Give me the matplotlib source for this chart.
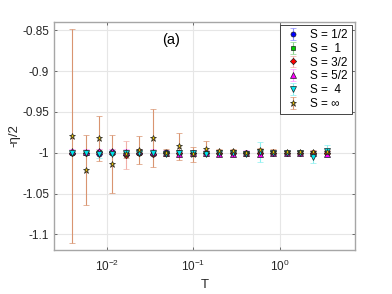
import matplotlib
matplotlib.use('Agg')
from matplotlib import pyplot as plt
from matplotlib.ticker import LogLocator, NullLocator

plt.rcParams['font.family'] = ['Liberation Sans', 'DejaVu Sans']

# temperatures
T = [0.004, 0.0057, 0.0081, 0.0116, 0.0166, 0.0237, 0.0338, 0.0482, 0.069, 0.098,
     0.14, 0.2, 0.286, 0.408, 0.582, 0.83, 1.19, 1.69, 2.41, 3.45]

labels = ['S = 1/2', 'S =  1', 'S = 3/2', 'S = 5/2', 'S =  4', 'S = \u221e']

s_half = [-1.0, -1.0, -1.001, -0.999, -1.0, -1.0, -1.001, -0.999, -1.0, -1.0,
          -1.0, -1.0, -0.999, -1.0, -1.0, -1.0, -1.0, -1.0, -1.0, -1.0]
s_half_err = [0.002] * 20
s_one = [-1.0, -1.0, -0.999, -1.0, -1.001, -1.0, -1.0, -1.0, -0.999, -1.0,
         -1.0, -1.0, -1.0, -1.0, -1.0, -1.0, -1.0, -1.0, -1.0, -1.0]
s_one_err = [0.002] * 20
s_3half = [-1.0, -1.0, -0.999, -0.999, -1.003, -1.0, -1.001, -1.0, -1.0, -1.0,
           -1.0, -1.0, -1.0, -1.0, -1.0, -1.0, -1.0, -1.0, -1.0, -1.0]
s_3half_err = [0.003, 0.003, 0.003, 0.003, 0.017, 0.003, 0.003, 0.003, 0.003, 0.003,
               0.002, 0.002, 0.002, 0.002, 0.002, 0.002, 0.002, 0.002, 0.002, 0.002]
s_5half = [-0.998, -0.999, -0.998, -0.998, -0.999, -0.998, -0.999, -1.0, -1.002, -1.0,
           -1.0, -1.001, -1.002, -1.0, -1.002, -1.0, -1.0, -1.0, -1.0, -1.001]
s_5half_err = [0.003] * 20
s_four = [-1.0, -1.0, -1.002, -1.001, -1.0, -1.0, -1.0, -1.001, -1.0, -1.0,
          -1.001, -1.0, -1.0, -1.001, -0.999, -1.0, -1.0, -1.0, -1.005, -0.998]
s_four_err = [0.002, 0.002, 0.004, 0.002, 0.002, 0.002, 0.002, 0.002, 0.002, 0.002,
              0.002, 0.002, 0.002, 0.002, 0.012, 0.002, 0.002, 0.002, 0.007, 0.007]
s_inf = [-0.980, -1.0215, -0.982, -1.0142, -1.002, -0.9965, -0.982, -1.0, -0.9918, -1.002,
         -0.995, -0.998, -0.998, -1.0007, -0.997, -0.999, -0.9995, -0.999, -0.999, -0.999]
s_inf_err = [0.131, 0.043, 0.0275, 0.0355, 0.004, 0.0168, 0.036, 0.004, 0.0165, 0.009,
             0.009, 0.003, 0.003, 0.003, 0.003, 0.003, 0.002, 0.002, 0.002, 0.002]

fig = plt.figure(figsize=(3.92, 2.94), dpi=100)
ax = fig.add_axes([0.1378, 0.1497, 0.7678, 0.7755])

series = [
    (s_half, s_half_err, 'o', '#0000ff', '#8c8cff', 3.6),
    (s_one, s_one_err, 's', '#00cc00', '#8cd68c', 3.4),
    (s_3half, s_3half_err, 'D', '#ff0000', '#f2b0a8', 3.2),
    (s_5half, s_5half_err, '^', '#ff00ff', '#ff99ff', 3.8),
    (s_four, s_four_err, 'v', '#00e5ee', '#8cf0f0', 3.8),
    (s_inf, s_inf_err, '*', '#e8c000', '#d99470', 5.0),
]
for (y, e, m, fc, ec, ms), lab in zip(series, labels):
    ax.errorbar(T, y, yerr=e, fmt=m, color=ec, ecolor=ec, mfc=fc, mec='#202020',
                mew=0.5, ms=ms, elinewidth=0.8, capsize=2.5, capthick=0.8, label=lab)

ax.set_xscale('log')
ax.set_xlim(10 ** -2.608, 10 ** 0.865)
ax.set_ylim(-1.119, -0.840)
ax.set_yticks([-1.1, -1.05, -1.0, -0.95, -0.9, -0.85])
ax.set_yticklabels(['-1.1', '-1.05', '-1', '-0.95', '-0.9', '-0.85'])
ax.xaxis.set_major_locator(LogLocator(base=10, numticks=10))
ax.xaxis.set_minor_locator(NullLocator())
ax.grid(True, color='#e6e6e6', lw=0.8)
ax.set_axisbelow(True)
ax.tick_params(direction='in', length=2.5, width=0.6, color='#555555',
               labelsize=8.5, top=True, right=True, labelcolor='#262626')
ax.tick_params(axis='x', pad=6)
for sp in ax.spines.values():
    sp.set_color('#a6a6a6')
    sp.set_linewidth(1.0)

ax.set_xlabel('T', fontsize=9.5, color='#262626', labelpad=4)
ax.set_ylabel('-\u03b7/2', fontsize=9.5, color='#262626', labelpad=1)

ax.text(0.39, 0.92, '(a)', transform=ax.transAxes, ha='center', va='center',
        fontsize=10.5, bbox=dict(facecolor='white', edgecolor='none', pad=1))

leg = ax.legend(loc='upper right', fontsize=8.5, frameon=True, fancybox=False,
                framealpha=1, edgecolor='#262626', borderaxespad=0.25,
                handlelength=1.4, handletextpad=0.8, labelspacing=0.15,
                borderpad=0.35)
leg.get_frame().set_linewidth(0.6)

fig.savefig('out.png', dpi=100)
